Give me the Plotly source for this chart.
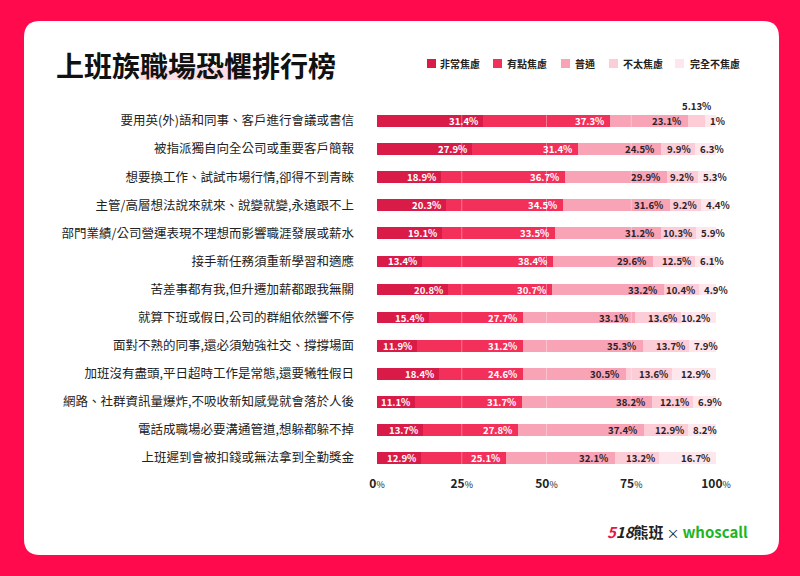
import plotly.graph_objects as go

categories = [
    "要用英(外)語和同事、客戶進行會議或書信",
    "被指派獨自向全公司或重要客戶簡報",
    "想要換工作、試試市場行情,卻得不到青睞",
    "主管/高層想法說來就來、說變就變,永遠跟不上",
    "部門業績/公司營運表現不理想而影響職涯發展或薪水",
    "接手新任務須重新學習和適應",
    "苦差事都有我,但升遷加薪都跟我無關",
    "就算下班或假日,公司的群組依然響不停",
    "面對不熟的同事,還必須勉強社交、撐撐場面",
    "加班沒有盡頭,平日超時工作是常態,還要犧牲假日",
    "網路、社群資訊量爆炸,不吸收新知感覺就會落於人後",
    "電話成職場必要溝通管道,想躲都躲不掉",
    "上班遲到會被扣錢或無法拿到全勤獎金",
]
series_names = ["非常焦慮", "有點焦慮", "普通", "不太焦慮", "完全不焦慮"]
very_anxious = [31.4, 27.9, 18.9, 20.3, 19.1, 13.4, 20.8, 15.4, 11.9, 18.4, 11.1, 13.7, 12.9]
somewhat_anxious = [37.3, 31.4, 36.7, 34.5, 33.5, 38.4, 30.7, 27.7, 31.2, 24.6, 31.7, 27.8, 25.1]
neutral = [23.1, 24.5, 29.9, 31.6, 31.2, 29.6, 33.2, 33.1, 35.3, 30.5, 38.2, 37.4, 32.1]
not_very = [5.1, 9.9, 9.2, 9.2, 10.3, 12.5, 10.4, 13.6, 13.7, 13.6, 12.1, 12.9, 13.2]
not_at_all = [3.1, 6.3, 5.3, 4.4, 5.9, 6.1, 4.9, 10.2, 7.9, 12.9, 6.9, 8.2, 16.7]
tick_values = [0, 25, 50, 75, 100]

# labels as printed on the original (first row's small labels overlap there)
label_overrides = {(0, 3): "5.13%", (0, 4): "1%"}
raised_labels = {(0, 3)}

colors = ["#D91C47", "#F2305A", "#F8A4B6", "#FCCCD7", "#FDE6EC"]
text_colors = ["white", "white", "#2b2226", "#2b2226", "#2b2226"]
label_shift = [-3, -4, -5, -2, -4]

W, H = 800, 576
L, R, T, B = 377, 84, 107, 104
PW, PH = W - L - R, H - T - B


def px(x):
    return (x - L) / PW


def py(y):
    return 1 - (y - T) / PH


def rounded_rect(x0, y0, x1, y1, r):
    pts = [
        f"M{px(x0 + r)},{py(y0)}",
        f"L{px(x1 - r)},{py(y0)}",
        f"Q{px(x1)},{py(y0)} {px(x1)},{py(y0 + r)}",
        f"L{px(x1)},{py(y1 - r)}",
        f"Q{px(x1)},{py(y1)} {px(x1 - r)},{py(y1)}",
        f"L{px(x0 + r)},{py(y1)}",
        f"Q{px(x0)},{py(y1)} {px(x0)},{py(y1 - r)}",
        f"L{px(x0)},{py(y0 + r)}",
        f"Q{px(x0)},{py(y0)} {px(x0 + r)},{py(y0)}",
        "Z",
    ]
    return " ".join(pts)


series = [very_anxious, somewhat_anxious, neutral, not_very, not_at_all]

fig = go.Figure()
for name, vals, col in zip(series_names, series, colors):
    fig.add_trace(go.Bar(x=vals, y=categories, orientation="h", name=name,
                         marker=dict(color=col, line=dict(width=0)),
                         hoverinfo="skip", showlegend=False))

pct_font = dict(family="Noto Sans CJK TC", size=9.6, weight="bold")
annotations = []
for i, cat in enumerate(categories):
    cum = 0
    for k, vals in enumerate(series):
        v = vals[i]
        start, end = cum, cum + v
        cum = end
        txt = label_overrides.get((i, k), f"{v:g}%")
        f = dict(pct_font, color=text_colors[k])
        if (i, k) in raised_labels:
            annotations.append(dict(x=(start + end) / 2, y=cat, text=txt, showarrow=False,
                                    xanchor="center", yshift=15, font=f))
        elif k == 4 and v < 10:
            annotations.append(dict(x=start, y=cat, text=txt, showarrow=False,
                                    xanchor="left", xshift=3, font=f))
        else:
            annotations.append(dict(x=end, y=cat, text=txt, showarrow=False,
                                    xanchor="right", xshift=label_shift[k], font=f))

# title
annotations.append(dict(x=px(54), y=py(65), xref="paper", yref="paper",
                        text="<b>上班族職場恐懼排行榜</b>", showarrow=False,
                        xanchor="left", yanchor="middle",
                        font=dict(family="Noto Sans CJK TC", size=28, color="#111111")))

# legend
legend_sq_x = [427, 493, 561, 609, 675]
legend_txt_x = [438, 505, 573, 621, 688]
shapes = [
    dict(type="path", xref="paper", yref="paper", layer="below",
         path=rounded_rect(24, 21, 779, 555, 16), fillcolor="white", line=dict(width=0)),
    dict(type="rect", xref="paper", yref="paper", layer="below",
         x0=px(140), x1=px(251), y0=py(67), y1=py(80),
         fillcolor="#FCDDE4", line=dict(width=0)),
]
for name, col, sx, tx in zip(series_names, colors, legend_sq_x, legend_txt_x):
    shapes.append(dict(type="rect", xref="paper", yref="paper",
                       x0=px(sx), x1=px(sx + 9), y0=py(59), y1=py(68),
                       fillcolor=col, line=dict(width=0)))
    annotations.append(dict(x=px(tx), y=py(63.5), xref="paper", yref="paper",
                            text=f"<b>{name}</b>", showarrow=False,
                            xanchor="left", yanchor="middle",
                            font=dict(family="Noto Sans CJK TC", size=10, color="#222222")))

# faint white guides across the bars
for tv in [25, 50, 75]:
    shapes.append(dict(type="line", xref="x", yref="paper", x0=tv, x1=tv,
                       y0=0, y1=1, layer="above",
                       line=dict(color="rgba(255,255,255,0.35)", width=1)))

# logo
annotations.append(dict(x=px(750), y=py(531), xref="paper", yref="paper",
                        text="<b><i><span style='color:#E8173F'>5</span>18</i>熊班</b>"
                             "<span style='font-size:13px'> × </span>"
                             "<b><span style='color:#1FB51F'>whoscall</span></b>",
                        showarrow=False, xanchor="right", yanchor="middle",
                        font=dict(family="Noto Sans CJK TC", size=15, color="#222222")))

fig.update_layout(
    width=W, height=H,
    margin=dict(l=L, r=R, t=T, b=B),
    paper_bgcolor="#FF0B4D",
    plot_bgcolor="rgba(0,0,0,0)",
    barmode="stack",
    bargap=0.58,
    showlegend=False,
    shapes=shapes,
    annotations=annotations,
    xaxis=dict(range=[0, 100], tickvals=tick_values,
               ticktext=[f"<b>{t}</b><span style='font-size:9px'>%</span>" for t in tick_values],
               showgrid=False, zeroline=False, showline=False, ticks="",
               ticklabelstandoff=3,
               tickfont=dict(family="Noto Sans CJK TC", size=12, color="#222222"),
               fixedrange=True),
    yaxis=dict(autorange="reversed", showgrid=False, zeroline=False, showline=False,
               ticks="", ticklabelstandoff=22,
               tickfont=dict(family="Noto Sans CJK TC", size=12.5, color="#222222"),
               fixedrange=True),
)

# the page's default body margin would push the figure 8px off the corner
fig.write_html("out.html", config={"displayModeBar": False},
               post_script="document.body.style.margin='0';"
                           "document.body.style.background='#FF0B4D';")
